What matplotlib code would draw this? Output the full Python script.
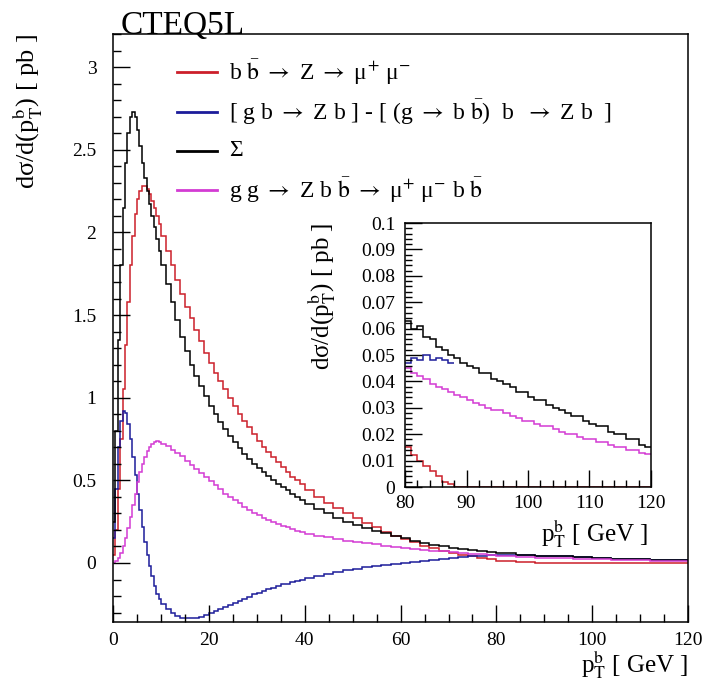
import matplotlib
matplotlib.use("Agg")
import matplotlib.pyplot as plt
import numpy as np
from matplotlib.ticker import MultipleLocator, FuncFormatter
from matplotlib.lines import Line2D

plt.rcParams['font.family'] = ['Liberation Serif', 'DejaVu Serif']
plt.rcParams['mathtext.fontset'] = 'stix'

# ---- data ----
# main histogram bin edges (GeV)
main_edges = np.concatenate([np.arange(0, 10, 0.5), np.arange(10, 40, 1),
                             np.arange(40, 80, 2), np.arange(80, 120.1, 4)])

red_main = [0.05, 0.2, 0.45, 0.75, 1.05, 1.32, 1.58, 1.8, 1.98, 2.11,
            2.2, 2.25, 2.28, 2.28, 2.26, 2.23, 2.19, 2.15, 2.1, 2.05,
            1.98, 1.89, 1.8, 1.71, 1.63, 1.55, 1.48, 1.41, 1.34, 1.27,
            1.21, 1.15, 1.1, 1.05, 1.0, 0.95, 0.9, 0.86, 0.82, 0.78,
            0.74, 0.7, 0.67, 0.64, 0.61, 0.58, 0.55, 0.52, 0.5, 0.48,
            0.44, 0.4, 0.36, 0.33, 0.3, 0.27, 0.24, 0.215, 0.19, 0.165,
            0.145, 0.125, 0.105, 0.09, 0.075, 0.062, 0.05, 0.04, 0.031, 0.022,
            0.012, 0.004, 0.0, 0.0, 0.0, 0.0, 0.0, 0.0, 0.0, 0.0]

blue_main = [0.15, 0.45, 0.7, 0.86, 0.92, 0.91, 0.84, 0.75, 0.64, 0.53,
             0.42, 0.32, 0.22, 0.13, 0.05, -0.02, -0.08, -0.14, -0.19, -0.22,
             -0.25, -0.28, -0.305, -0.32, -0.33, -0.335, -0.335, -0.33, -0.325, -0.315,
             -0.305, -0.29, -0.28, -0.265, -0.255, -0.24, -0.23, -0.215, -0.205, -0.19,
             -0.18, -0.17, -0.16, -0.15, -0.14, -0.13, -0.125, -0.115, -0.11, -0.1,
             -0.09, -0.08, -0.065, -0.055, -0.045, -0.035, -0.027, -0.02, -0.012, -0.005,
             0.002, 0.008, 0.014, 0.02, 0.025, 0.03, 0.035, 0.04, 0.043, 0.046,
             0.049, 0.048, 0.045, 0.04, 0.035, 0.031, 0.027, 0.023, 0.019, 0.016]

sum_main = [0.25, 0.8, 1.35, 1.8, 2.15, 2.42, 2.6, 2.7, 2.73, 2.7,
            2.62, 2.52, 2.42, 2.33, 2.25, 2.17, 2.1, 2.03, 1.96, 1.89,
            1.8, 1.69, 1.58, 1.47, 1.37, 1.28, 1.2, 1.13, 1.07, 1.01,
            0.95, 0.9, 0.85, 0.81, 0.77, 0.73, 0.695, 0.66, 0.63, 0.6,
            0.575, 0.55, 0.525, 0.5, 0.48, 0.46, 0.44, 0.42, 0.4, 0.38,
            0.355, 0.325, 0.3, 0.275, 0.25, 0.23, 0.21, 0.195, 0.18, 0.165,
            0.15, 0.135, 0.12, 0.11, 0.1, 0.092, 0.085, 0.078, 0.072, 0.066,
            0.06, 0.051, 0.045, 0.04, 0.035, 0.031, 0.027, 0.023, 0.019, 0.016]

mag_main = [0.0, 0.01, 0.03, 0.06, 0.1, 0.15, 0.21, 0.28, 0.35, 0.42,
            0.49, 0.55, 0.6, 0.64, 0.675, 0.7, 0.72, 0.73, 0.735, 0.73,
            0.72, 0.705, 0.685, 0.665, 0.645, 0.62, 0.595, 0.57, 0.545, 0.52,
            0.495, 0.47, 0.445, 0.42, 0.4, 0.38, 0.36, 0.34, 0.32, 0.305,
            0.29, 0.275, 0.26, 0.245, 0.235, 0.225, 0.215, 0.205, 0.195, 0.185,
            0.175, 0.165, 0.155, 0.145, 0.135, 0.127, 0.12, 0.112, 0.105, 0.098,
            0.092, 0.086, 0.08, 0.075, 0.07, 0.065, 0.06, 0.056, 0.052, 0.048,
            0.043, 0.038, 0.033, 0.029, 0.026, 0.023, 0.02, 0.018, 0.015, 0.013]

# inset (80-120 GeV, 1 GeV bins)
inset_edges = np.arange(80, 120.1, 1)
blue_edges = np.arange(80, 88.1, 1)

sum_in = [0.063, 0.060, 0.061, 0.057, 0.056, 0.053, 0.052, 0.050, 0.049, 0.047,
          0.046, 0.045, 0.043, 0.043, 0.041, 0.040, 0.039, 0.038, 0.036, 0.036,
          0.034, 0.033, 0.033, 0.031, 0.030, 0.029, 0.028, 0.027, 0.027, 0.025,
          0.024, 0.023, 0.023, 0.021, 0.020, 0.020, 0.018, 0.018, 0.016, 0.015]
blue_in = [0.047, 0.049, 0.048, 0.050, 0.048, 0.049, 0.048, 0.047]
red_in = [0.015, 0.012, 0.010, 0.008, 0.006, 0.004, 0.002, 0.001] + [0.0] * 32
mag_in = [0.045, 0.043, 0.042, 0.041, 0.039, 0.038, 0.037, 0.036, 0.035, 0.034,
          0.033, 0.032, 0.031, 0.030, 0.029, 0.029, 0.028, 0.027, 0.026, 0.025,
          0.025, 0.024, 0.023, 0.023, 0.022, 0.021, 0.020, 0.020, 0.019, 0.018,
          0.018, 0.017, 0.017, 0.016, 0.015, 0.015, 0.014, 0.014, 0.013, 0.0125]

labels = [r'b $\bar{\rm b}$ $\rightarrow$ Z $\rightarrow$ μ$^{+}$ μ$^{-}$',
          r'[ g b $\rightarrow$ Z b ] - [ (g $\rightarrow$ b $\bar{\rm b}$)  b  $\rightarrow$ Z b  ]',
          'Σ',
          r'g g $\rightarrow$ Z b $\bar{\rm b}$ $\rightarrow$ μ$^{+}$ μ$^{-}$ b $\bar{\rm b}$']

RED = '#cc1f2a'
BLUE = '#1c1c9a'
MAG = '#d33bd3'
BLK = '#000000'
colors = [RED, BLUE, BLK, MAG]

ylab = r'dσ/d(p$_{\rm T}^{\rm b}$) [ pb ]'
xlab = r'p$_{\rm T}^{\rm b}$ [ GeV ]'
fmt = FuncFormatter(lambda v, p: '%g' % round(v, 4))

fig = plt.figure(figsize=(7.04, 6.87), dpi=100)
ax = fig.add_axes([0.1605, 0.0946, 0.817, 0.8559])

lw = 1.1
ax.stairs(red_main, main_edges, color=RED, lw=lw, baseline=None)
ax.stairs(blue_main, main_edges, color=BLUE, lw=lw, baseline=None)
ax.stairs(sum_main, main_edges, color=BLK, lw=lw, baseline=None)
ax.stairs(mag_main, main_edges, color=MAG, lw=lw, baseline=None)

ax.set_xlim(0, 120)
ax.set_ylim(-0.357, 3.2)
ax.xaxis.set_major_locator(MultipleLocator(20))
ax.xaxis.set_minor_locator(MultipleLocator(5))
ax.yaxis.set_major_locator(MultipleLocator(0.5))
ax.yaxis.set_minor_locator(MultipleLocator(0.1))
ax.yaxis.set_major_formatter(fmt)
ax.tick_params(which='both', direction='in', top=False, right=False, labelsize=14)
ax.tick_params(which='major', length=12, width=1)
ax.tick_params(which='minor', length=6, width=1)
ax.tick_params(axis='x', pad=7)
ax.tick_params(axis='y', pad=12)
for s in ax.spines.values():
    s.set_linewidth(1.1)

ax.set_ylabel(ylab, fontsize=19, loc='top')
ax.yaxis.set_label_coords(-0.118, 1.0)
ax.set_xlabel(xlab, fontsize=18, loc='right')
ax.xaxis.set_label_coords(1.0, -0.045)

fig.text(0.171, 0.9505, 'CTEQ5L', fontsize=24, ha='left', va='baseline')

# legend drawn by hand, ROOT style
rows = [72, 112, 151, 190]
for lab, c, r in zip(labels, colors, rows):
    yf = 1 - r / 687
    fig.add_artist(Line2D([177 / 704, 217 / 704], [yf, yf], color=c, lw=2,
                          transform=fig.transFigure))
    fig.text(229 / 704, yf, lab, fontsize=17, ha='left', va='center')

# inset
axi = fig.add_axes([0.5753, 0.2911, 0.3494, 0.3843])
axi.stairs(red_in, inset_edges, color=RED, lw=lw, baseline=None)
axi.stairs(blue_in, blue_edges, color=BLUE, lw=lw, baseline=None)
axi.stairs(mag_in, inset_edges, color=MAG, lw=lw, baseline=None)
axi.stairs(sum_in, inset_edges, color=BLK, lw=lw, baseline=None)
axi.set_xlim(80, 120)
axi.set_ylim(0, 0.1)
axi.xaxis.set_major_locator(MultipleLocator(10))
axi.xaxis.set_minor_locator(MultipleLocator(2))
axi.yaxis.set_major_locator(MultipleLocator(0.01))
axi.yaxis.set_minor_locator(MultipleLocator(0.002))
axi.yaxis.set_major_formatter(fmt)
axi.tick_params(which='both', direction='in', top=False, right=False, labelsize=14)
axi.tick_params(which='major', length=12, width=1)
axi.tick_params(which='minor', length=5, width=1)
axi.tick_params(axis='x', pad=6)
axi.tick_params(axis='y', pad=7)
for s in axi.spines.values():
    s.set_linewidth(1.1)
axi.set_ylabel(ylab, fontsize=18, loc='top')
axi.yaxis.set_label_coords(-0.272, 1.0)
axi.set_xlabel(xlab, fontsize=18, loc='right')
axi.xaxis.set_label_coords(0.99, -0.115)

fig.savefig('out.png', dpi=100)
